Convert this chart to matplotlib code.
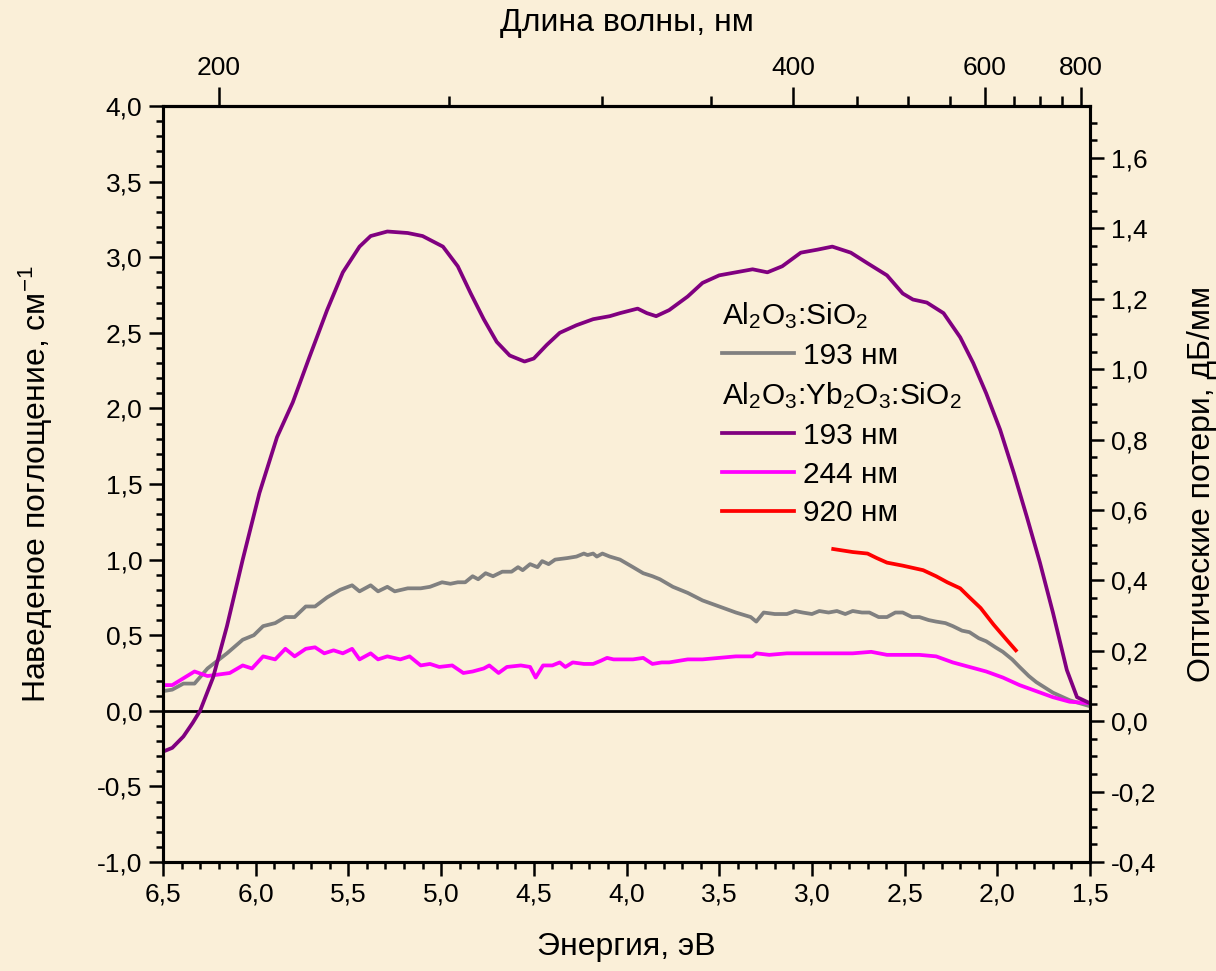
import matplotlib
matplotlib.use("Agg")
import matplotlib.pyplot as plt
from matplotlib.ticker import MultipleLocator, FuncFormatter, FixedLocator
from matplotlib.lines import Line2D

plt.rcParams['font.family'] = ['Liberation Sans', 'DejaVu Sans']
plt.rcParams['mathtext.fontset'] = 'custom'
plt.rcParams['mathtext.rm'] = 'Liberation Sans'
plt.rcParams['mathtext.it'] = 'Liberation Sans'
plt.rcParams['mathtext.default'] = 'regular'

# ---------------- data ----------------
E_yb193 = [6.50, 6.45, 6.39, 6.34, 6.30, 6.23, 6.155, 6.07, 5.98, 5.885, 5.80, 5.71, 5.615,
           5.53, 5.44, 5.38, 5.29, 5.18, 5.10, 4.99, 4.91, 4.84, 4.77, 4.70, 4.63, 4.55,
           4.50, 4.43, 4.36, 4.27, 4.18, 4.09, 4.035, 3.94, 3.89, 3.84, 3.77, 3.67, 3.59,
           3.50, 3.41, 3.32, 3.24, 3.16, 3.06, 2.97, 2.89, 2.79, 2.70, 2.595, 2.51, 2.455,
           2.38, 2.29, 2.20, 2.13, 2.06, 1.985, 1.91, 1.84, 1.77, 1.70, 1.625, 1.57, 1.50]
A_yb193 = [-0.27, -0.245, -0.17, -0.08, 0.0, 0.22, 0.56, 1.00, 1.44, 1.81, 2.04, 2.34, 2.65,
           2.90, 3.07, 3.14, 3.17, 3.16, 3.14, 3.07, 2.94, 2.76, 2.59, 2.44, 2.35, 2.31,
           2.33, 2.42, 2.50, 2.55, 2.59, 2.61, 2.63, 2.66, 2.63, 2.61, 2.65, 2.74, 2.83,
           2.88, 2.90, 2.92, 2.90, 2.94, 3.03, 3.05, 3.07, 3.03, 2.96, 2.88, 2.76, 2.72,
           2.70, 2.63, 2.47, 2.30, 2.10, 1.86, 1.57, 1.28, 0.98, 0.65, 0.27, 0.09, 0.05]

E_al193 = [6.50, 6.45, 6.39, 6.33, 6.26, 6.155, 6.07, 6.01, 5.96, 5.895, 5.84, 5.79, 5.73,
           5.68, 5.615, 5.545, 5.48, 5.44, 5.38, 5.34, 5.29, 5.25, 5.18, 5.11, 5.06, 4.995,
           4.95, 4.91, 4.87, 4.83, 4.80, 4.76, 4.72, 4.67, 4.62, 4.585, 4.56, 4.52, 4.48,
           4.455, 4.42, 4.385, 4.32, 4.27, 4.23, 4.21, 4.18, 4.16, 4.13, 4.09, 4.035, 3.965,
           3.91, 3.86, 3.82, 3.75, 3.67, 3.59, 3.50, 3.41, 3.33, 3.30, 3.26, 3.20, 3.135,
           3.09, 3.05, 3.00, 2.96, 2.91, 2.865, 2.82, 2.78, 2.73, 2.69, 2.64, 2.595, 2.55,
           2.51, 2.46, 2.42, 2.37, 2.33, 2.28, 2.24, 2.19, 2.15, 2.10, 2.06, 2.01, 1.97,
           1.92, 1.88, 1.83, 1.79, 1.70, 1.61, 1.50]
A_al193 = [0.13, 0.14, 0.18, 0.18, 0.28, 0.38, 0.47, 0.50, 0.56, 0.58, 0.62, 0.62, 0.69,
           0.69, 0.75, 0.80, 0.83, 0.79, 0.83, 0.79, 0.82, 0.79, 0.81, 0.81, 0.82, 0.85,
           0.84, 0.85, 0.85, 0.89, 0.87, 0.91, 0.89, 0.92, 0.92, 0.95, 0.93, 0.97, 0.95,
           0.99, 0.97, 1.00, 1.01, 1.02, 1.04, 1.03, 1.04, 1.02, 1.04, 1.02, 1.00, 0.95,
           0.91, 0.89, 0.87, 0.82, 0.78, 0.73, 0.69, 0.65, 0.62, 0.59, 0.65, 0.64, 0.64,
           0.66, 0.65, 0.64, 0.66, 0.65, 0.66, 0.64, 0.66, 0.65, 0.65, 0.62, 0.62, 0.65,
           0.65, 0.62, 0.62, 0.60, 0.59, 0.58, 0.56, 0.53, 0.52, 0.48, 0.46, 0.42, 0.39,
           0.34, 0.29, 0.23, 0.19, 0.12, 0.07, 0.03]

E_yb244 = [6.50, 6.45, 6.33, 6.26, 6.20, 6.14, 6.07, 6.02, 5.96, 5.895, 5.84, 5.79, 5.73,
           5.68, 5.63, 5.58, 5.53, 5.48, 5.44, 5.38, 5.34, 5.29, 5.22, 5.17, 5.11, 5.06,
           5.01, 4.94, 4.88, 4.83, 4.77, 4.74, 4.69, 4.645, 4.57, 4.52, 4.49, 4.45, 4.40,
           4.36, 4.33, 4.29, 4.23, 4.18, 4.14, 4.105, 4.07, 4.035, 3.965, 3.91, 3.86, 3.81,
           3.77, 3.67, 3.59, 3.50, 3.41, 3.32, 3.30, 3.23, 3.135, 3.05, 2.96, 2.865, 2.78,
           2.68, 2.595, 2.51, 2.42, 2.33, 2.24, 2.15, 2.06, 1.97, 1.88, 1.79, 1.70, 1.61, 1.50]
A_yb244 = [0.17, 0.17, 0.26, 0.23, 0.24, 0.25, 0.30, 0.28, 0.36, 0.34, 0.41, 0.36, 0.41,
           0.42, 0.38, 0.40, 0.38, 0.41, 0.34, 0.38, 0.34, 0.36, 0.34, 0.36, 0.30, 0.31,
           0.29, 0.30, 0.25, 0.26, 0.28, 0.30, 0.25, 0.29, 0.30, 0.29, 0.22, 0.30, 0.30,
           0.32, 0.29, 0.32, 0.31, 0.31, 0.33, 0.35, 0.34, 0.34, 0.34, 0.35, 0.31, 0.32,
           0.32, 0.34, 0.34, 0.35, 0.36, 0.36, 0.38, 0.37, 0.38, 0.38, 0.38, 0.38, 0.38,
           0.39, 0.37, 0.37, 0.37, 0.36, 0.32, 0.29, 0.26, 0.22, 0.17, 0.13, 0.09, 0.06, 0.05]

E_yb920 = [2.885, 2.78, 2.70, 2.65, 2.595, 2.51, 2.40, 2.33, 2.27, 2.20, 2.15, 2.09, 2.02, 1.95, 1.90]
A_yb920 = [1.07, 1.05, 1.04, 1.01, 0.98, 0.96, 0.93, 0.89, 0.85, 0.81, 0.75, 0.68, 0.57, 0.47, 0.40]

left_ticks = [-1.0, -0.5, 0.0, 0.5, 1.0, 1.5, 2.0, 2.5, 3.0, 3.5, 4.0]
right_ticks = [-0.4, -0.2, 0.0, 0.2, 0.4, 0.6, 0.8, 1.0, 1.2, 1.4, 1.6]
wl_major = [200, 400, 600, 800]
wl_minor = [250, 300, 350, 450, 500, 550, 650, 700, 750]

BG = '#FAEFD8'
C_GRAY = '#808080'
C_PURPLE = '#800080'
C_MAG = '#FF00FF'
C_RED = '#FF0000'

comma = FuncFormatter(lambda v, p: f'{v:.1f}'.replace('.', ','))

fig = plt.figure(figsize=(12.16, 9.71), dpi=100, facecolor=BG)
ax = fig.add_axes([163/1216, 1-862/971, (1090-163)/1216, (862-106)/971])
ax.set_facecolor(BG)

lw = 2.7
ax.axhline(0, color='black', lw=2.0, zorder=1)
l_gray, = ax.plot(E_al193, A_al193, color=C_GRAY, lw=lw, zorder=3)
l_pur, = ax.plot(E_yb193, A_yb193, color=C_PURPLE, lw=lw, zorder=4)
l_mag, = ax.plot(E_yb244, A_yb244, color=C_MAG, lw=lw, zorder=3)
l_red, = ax.plot(E_yb920, A_yb920, color=C_RED, lw=lw, zorder=3)

ax.set_xlim(6.5, 1.5)
ax.set_ylim(-1.0, 4.0)
ax.xaxis.set_major_locator(MultipleLocator(0.5))
ax.xaxis.set_minor_locator(MultipleLocator(0.1))
ax.yaxis.set_major_locator(FixedLocator(left_ticks))
ax.yaxis.set_minor_locator(MultipleLocator(0.1))
ax.xaxis.set_major_formatter(comma)
ax.yaxis.set_major_formatter(comma)

for s in ax.spines.values():
    s.set_linewidth(2.2)

TS = 19
tick_kw = dict(direction='out', width=1.8, colors='black', labelsize=TS)
ax.tick_params(axis='both', which='major', length=10, pad=5, **tick_kw)
ax.tick_params(axis='both', which='minor', length=5, **tick_kw)
ax.tick_params(top=False, right=False, which='both')

LS = 23
ax.set_xlabel('Энергия, эВ', fontsize=LS, labelpad=18)
ax.set_ylabel('Наведеное поглощение, см$^{-1}$', fontsize=LS, labelpad=30)

# right axis
axr = ax.twinx()
axr.set_ylim(-0.4, 1.748)
axr.yaxis.set_major_locator(FixedLocator(right_ticks))
axr.yaxis.set_minor_locator(MultipleLocator(0.05))
axr.yaxis.set_major_formatter(comma)
axr.tick_params(axis='y', which='major', length=10, pad=5, **tick_kw)
axr.tick_params(axis='y', which='minor', length=5, **tick_kw)
for s in axr.spines.values():
    s.set_linewidth(2.2)
axr.set_ylabel('Оптические потери, дБ/мм', fontsize=LS, labelpad=22)

# top axis: wavelength
conv = lambda x: 1239.84 / x
axt = ax.secondary_xaxis('top', functions=(conv, conv))
axt.xaxis.set_major_locator(FixedLocator(wl_major))
axt.xaxis.set_minor_locator(FixedLocator(wl_minor))
axt.xaxis.set_major_formatter(FuncFormatter(lambda v, p: f'{v:.0f}'))
axt.tick_params(axis='x', which='major', length=14, pad=5, **tick_kw)
axt.tick_params(axis='x', which='minor', length=7, **tick_kw)
axt.spines['top'].set_linewidth(2.2)
axt.set_xlabel('Длина волны, нм', fontsize=LS, labelpad=18)

# legend with two group headers
blank = Line2D([], [], color='none')
handles = [blank, l_gray, blank, l_pur, l_mag, l_red]
labels = ['Al$_2$O$_3$:SiO$_2$', '193 нм', 'Al$_2$O$_3$:Yb$_2$O$_3$:SiO$_2$',
          '193 нм', '244 нм', '920 нм']
leg = ax.legend(handles, labels, loc='upper left',
                bbox_to_anchor=((722-163)/927, (862-300)/756),
                frameon=False, fontsize=21.5, handlelength=2.4, handletextpad=0.3,
                borderpad=0, borderaxespad=0, labelspacing=0.36)
leg.set_zorder(10)
try:
    rows = leg._legend_handle_box.get_children()[0].get_children()
    for i in (0, 2):
        hp = rows[i]
        hp.get_children()[0].width = 0
        hp.sep = 0
except Exception:
    pass

fig.savefig('out.png', dpi=100, facecolor=BG)
